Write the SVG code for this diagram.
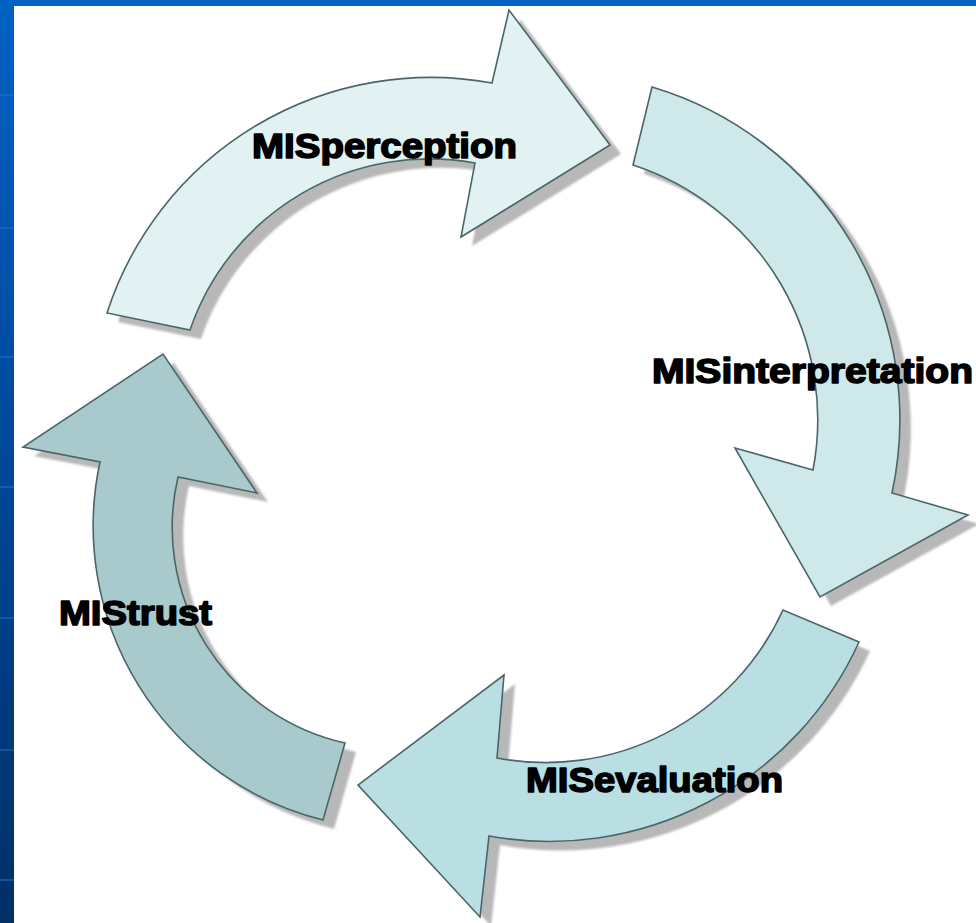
<svg xmlns="http://www.w3.org/2000/svg" xmlns:xlink="http://www.w3.org/1999/xlink" width="976" height="923" viewBox="0 0 976 923">
  <defs>
    <linearGradient id="edge" x1="0" y1="0" x2="0" y2="1">
      <stop offset="0" stop-color="#0062c4"/>
      <stop offset="0.5" stop-color="#00479a"/>
      <stop offset="1" stop-color="#002f66"/>
    </linearGradient>
    <filter id="soft" x="-10%" y="-10%" width="120%" height="120%">
      <feGaussianBlur stdDeviation="1.1"/>
    </filter>
    <path id="a-top" d="M107,313 A340,340 0 0 1 492,83 L509,10 L610,145 L461,237 L475,163 A253,253 0 0 0 190,330 Z"/>
    <path id="a-right" d="M652,87 A347,347 0 0 1 892,493 L968,515 L820,597 L735,448 L813,470 A268,268 0 0 0 633,165 Z"/>
    <path id="a-bottom" d="M859,642 A340,340 0 0 1 489,836 L480,917 L358,785 L504,675 L497,758 A261,261 0 0 0 783,610 Z"/>
    <path id="a-left" d="M323,820 A303,303 0 0 1 100,462 L23,447 L163,354 L257,493 L178,477 A221,221 0 0 0 345,743 Z"/>
  </defs>
  <style>
    .shadow { fill: #b8b8b8; filter: url(#soft); }
    .arrow { stroke: #4a666a; stroke-width: 1.6; stroke-linejoin: miter; }
    .label { font-family: "Liberation Sans", Arial, sans-serif; font-weight: bold; font-size: 35px; fill: #000; stroke: #000; stroke-width: 1.6; stroke-linejoin: round; }
    .stripe { stroke: #2a78d0; stroke-width: 1.5; opacity: 0.6; }
  </style>

  <!-- background -->
  <rect x="0" y="0" width="976" height="923" fill="#ffffff"/>
  <rect x="0" y="0" width="14" height="923" fill="url(#edge)"/>
  <rect x="0" y="0" width="976" height="6" fill="#0062c4"/>
  <g class="stripe">
    <line x1="0" y1="95" x2="14" y2="95"/>
    <line x1="0" y1="228" x2="14" y2="228"/>
    <line x1="0" y1="357" x2="14" y2="357"/>
    <line x1="0" y1="487" x2="14" y2="487"/>
    <line x1="0" y1="618" x2="14" y2="618"/>
    <line x1="0" y1="750" x2="14" y2="750"/>
    <line x1="0" y1="880" x2="14" y2="880"/>
  </g>

  <!-- shadows -->
  <g id="shadows">
    <use xlink:href="#a-top" href="#a-top" class="shadow" transform="translate(11,9)"/>
    <use xlink:href="#a-right" href="#a-right" class="shadow" transform="translate(11,9)"/>
    <use xlink:href="#a-bottom" href="#a-bottom" class="shadow" transform="translate(11,9)"/>
    <use xlink:href="#a-left" href="#a-left" class="shadow" transform="translate(11,9)"/>
  </g>

  <g id="connectors"></g>

  <g id="node-misperception">
    <use xlink:href="#a-top" href="#a-top" class="arrow" fill="#e2f2f2"/>
    <text class="label" x="252" y="158" textLength="265" lengthAdjust="spacingAndGlyphs">MISperception</text>
  </g>
  <g id="node-misinterpretation">
    <use xlink:href="#a-right" href="#a-right" class="arrow" fill="#cfe8ea"/>
    <text class="label" x="652" y="383" textLength="321" lengthAdjust="spacingAndGlyphs">MISinterpretation</text>
  </g>
  <g id="node-misevaluation">
    <use xlink:href="#a-bottom" href="#a-bottom" class="arrow" fill="#b9dfe3"/>
    <text class="label" x="526" y="792" textLength="257" lengthAdjust="spacingAndGlyphs">MISevaluation</text>
  </g>
  <g id="node-mistrust">
    <use xlink:href="#a-left" href="#a-left" class="arrow" fill="#a8cacc"/>
    <text class="label" x="59" y="625" textLength="153" lengthAdjust="spacingAndGlyphs">MIStrust</text>
  </g>
</svg>
